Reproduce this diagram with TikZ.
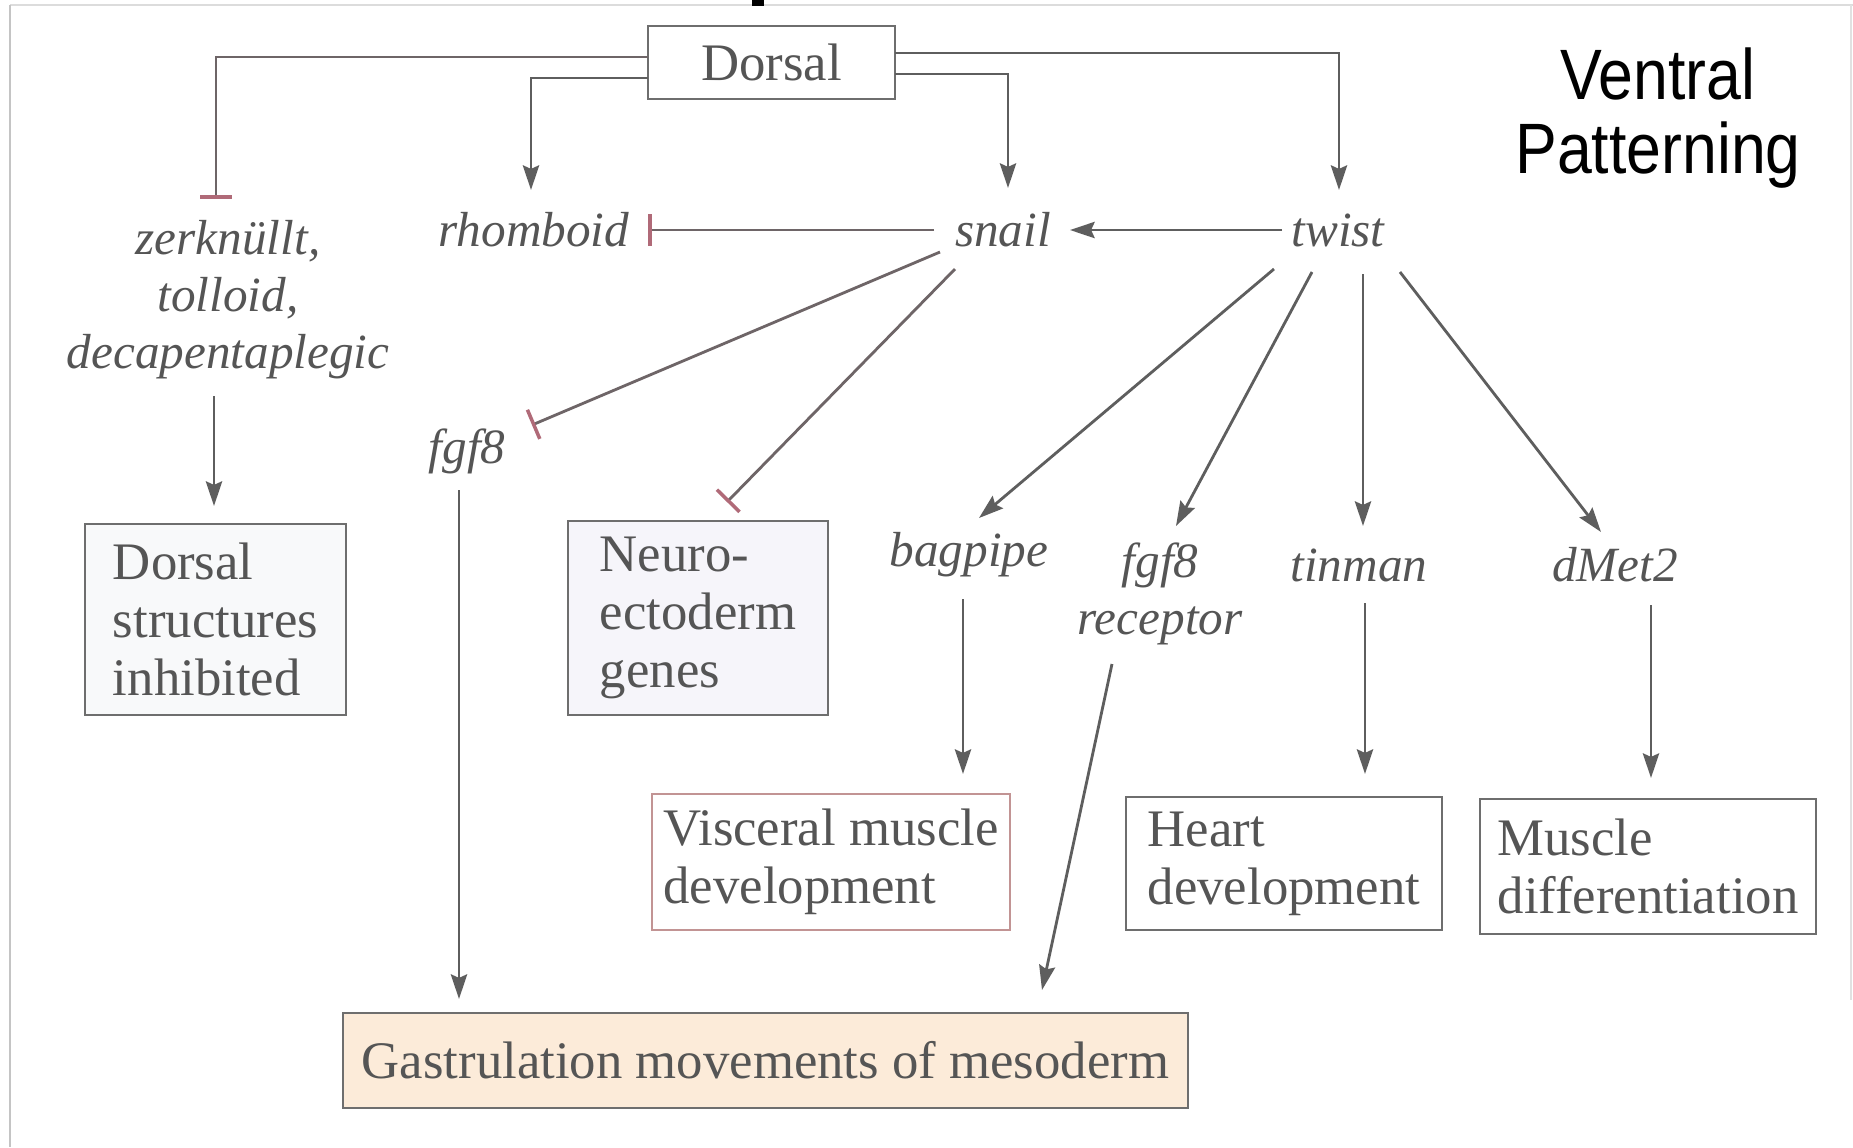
\documentclass[tikz,border=0pt]{standalone}
\usepackage{graphicx}
\usepackage{fontspec}
\setmainfont{Liberation Serif}
\newfontfamily\arialf{Liberation Sans}
\usetikzlibrary{arrows.meta,calc}
\definecolor{txt}{HTML}{555555}
\definecolor{lin}{HTML}{5E5E5E}
\definecolor{inhl}{HTML}{6E6567}
\definecolor{barc}{HTML}{B06A78}
\definecolor{boxline}{HTML}{6E6E6E}
\definecolor{gastfill}{HTML}{FCEBD9}
\definecolor{dsfill}{HTML}{F8F9FA}
\definecolor{nefill}{HTML}{F6F5FA}
\definecolor{framec}{HTML}{C4C4C4}
\begin{document}
\begin{tikzpicture}[x=0.01cm,y=-0.01cm,
  gene/.style={font=\fontsize{14}{16.2}\selectfont\itshape, text=txt, inner sep=1pt, align=center},
  outbox/.style={draw=boxline, line width=0.6pt, align=left, font=\fontsize{15}{16.5}\selectfont, text=txt, inner sep=0pt},
  act/.style={draw=lin, line width=0.8pt, -{Stealth[length=7pt,width=4.6pt,inset=1pt]}},
  inh/.style={draw=inhl, line width=0.8pt, -{Bar[width=9pt,line width=1pt,color=barc]}},
  framel/.style={draw=framec, line width=0.8pt}
]
\useasboundingbox (0,0) rectangle (1853,1147);
\fill[white] (0,0) rectangle (1853,1147);
% frame
\draw[framel, draw=framec!60] (10,5) -- (1853,5);
\draw[framel] (10,5) -- (10,1147);
\draw[framel, draw=framec!50] (1851,5) -- (1851,1000);
\fill[black] (752,0) rectangle (764,6);

% nodes
\node[outbox, minimum width=2.47cm, minimum height=0.73cm, align=center] (dorsal) at (771.5,62.5) {Dorsal};
\node[gene] (zer) at (228,300) {zerknüllt,\\tolloid,\\decapentaplegic};
\node[gene] (rhom) at (534,230) {rhomboid};
\node[gene] (snail) at (1003,230) {snail};
\node[gene] (twist) at (1338,230) {twist};
\node[gene] (fgf) at (467,451) {fgf8};
\node[gene] (bag) at (969,555) {bagpipe};
\node[gene] (fgfr) at (1160,594) {fgf8\\receptor};
\node[gene] (tin) at (1359,565) {tinman};
\node[gene] (dmet) at (1615,565) {dMet2};

\node[outbox, fill=dsfill, minimum width=2.61cm, minimum height=1.91cm] (dstruct) at (215.5,619.5) {Dorsal\\structures\\inhibited};
\node[outbox, fill=nefill, minimum width=2.60cm, minimum height=1.94cm] (neuro) at (698,618) {Neuro-\\ectoderm\\genes};
\node[outbox, draw=boxline!70!red!60!white, minimum width=3.58cm, minimum height=1.36cm] (visc) at (831,862) {Visceral muscle\\development};
\node[outbox, minimum width=3.16cm, minimum height=1.33cm] (heart) at (1284,863.5) {Heart\\development};
\node[outbox, minimum width=3.36cm, minimum height=1.35cm] (muscle) at (1648,866.5) {Muscle\\differentiation};
\node[outbox, fill=gastfill, minimum width=8.45cm, minimum height=0.95cm] (gast) at (765.5,1060.5) {Gastrulation movements of mesoderm};

\node[font=\arialf\fontsize{17.8}{20.8}\selectfont, align=center, text=black, inner sep=0pt] (vp) at (1658,118) {\scalebox{1}[1.14]{Ventral}\\\scalebox{1}[1.14]{Patterning}};

% connectors from Dorsal
\draw[inh] ($(dorsal)+(-123.5,-5.5)$) -| ($(zer)+(-12,-101)$);
\draw[act] ($(dorsal)+(-123.5,15.5)$) -| ($(rhom)+(-3,-40)$);
\draw[act] ($(dorsal)+(123.5,-9.5)$) -| ($(twist)+(1,-40)$);
\draw[act] ($(dorsal)+(123.5,11.5)$) -| ($(snail)+(5,-42)$);

% second row
\draw[inh] ($(snail)+(-69,0)$) -- ($(rhom)+(114,0)$);
\draw[act] ($(twist)+(-56,0)$) -- ($(snail)+(67,0)$);
\draw[inh] ($(snail)+(-63,22)$) -- ($(fgf)+(65,-26)$);
\draw[inh] ($(snail)+(-48,39)$) -- ($(neuro)+(29,-116)$);
\draw[act] ($(twist)+(-64,39)$) -- ($(bag)+(10,-37)$);
\draw[act] ($(twist)+(-26,42)$) -- ($(fgfr)+(16,-68)$);
\draw[act] ($(twist)+(25,44)$) -- ($(tin)+(4,-39)$);
\draw[act] ($(twist)+(62,42)$) -- ($(dmet)+(-14,-33)$);

% to outcome boxes
\draw[act] ($(zer)+(-14,96)$) -- ($(dstruct)+(-1.5,-113.5)$);
\draw[act] ($(fgf)+(-8,39)$) -- ($(gast)+(-306.5,-61.5)$);
\draw[act] ($(bag)+(-6,44)$) -- ($(visc)+(132,-88)$);
\draw[act] ($(fgfr)+(-48,70)$) -- ($(gast)+(276.5,-70.5)$);
\draw[act] ($(tin)+(6,38)$) -- ($(heart)+(81,-89.5)$);
\draw[act] ($(dmet)+(36,40)$) -- ($(muscle)+(3,-88.5)$);
\end{tikzpicture}
\end{document}
